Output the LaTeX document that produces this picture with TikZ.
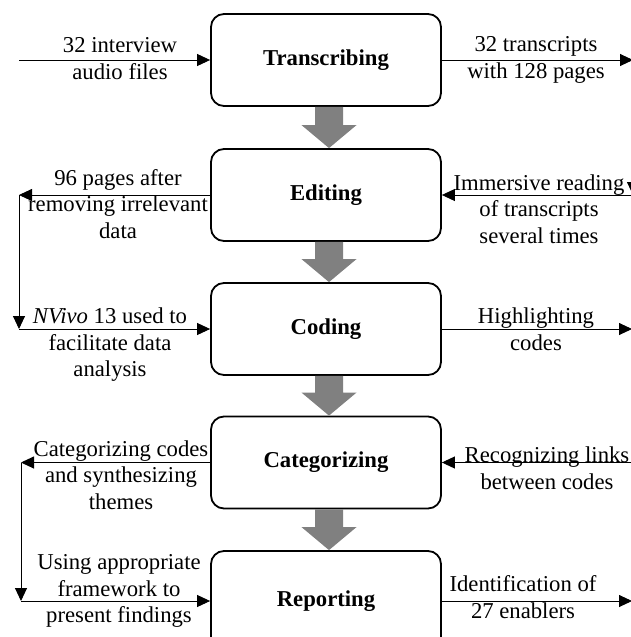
\documentclass[tikz,border=0pt]{standalone}
\usepackage{fontspec}
\setmainfont{Liberation Serif}
\usetikzlibrary{arrows.meta, calc}

\newcommand{\labelsize}{\fontsize{22.7}{26.5}\selectfont}

\begin{document}
\begin{tikzpicture}[x=1pt, y=-1pt,
    stage/.style={draw, line width=1.8pt, rounded corners=13pt, minimum width=230pt, minimum height=92pt, inner sep=0pt, font=\labelsize\bfseries},
    note/.style={align=center, inner sep=0pt, font=\labelsize},
    flow/.style={line width=0.9pt, -{Triangle[length=13pt, width=12pt]}}]
    \useasboundingbox (0,0) rectangle (631,637);

    % Draw the five stages
    \node[stage] (trans) at (326,60) {Transcribing};
    \node[stage] (edit) at (326,195) {Editing};
    \node[stage] (code) at (326,329) {Coding};
    \node[stage] (cat) at (326,462.5) {Categorizing};
    \node[stage, minimum height=100pt] (rep) at (326,601) {Reporting};

    % Draw grey block arrows between stages
    \foreach \a/\b in {trans/edit, edit/code, code/cat, cat/rep} {
        \fill[gray] ($(\a.south)+(-11,0)$) -- ($(\a.south)+(17,0)$) -- ($(\b.north)+(17,-23)$) -- ($(\b.north)+(30.5,-23)$)
            -- ($(\b.north)+(3,0)$) -- ($(\b.north)+(-24.5,-23)$) -- ($(\b.north)+(-11,-23)$) -- cycle;
    }

    % Free ends on the left and right edges
    \coordinate (ltrans) at (19,60);
    \coordinate (ledit) at (19,195);
    \coordinate (lcode) at (19,329);
    \coordinate (lcat) at (21,462.5);
    \coordinate (lrep) at (21,601);
    \coordinate (rtop) at (633,60);
    \coordinate (rbot) at (633,195);
    \coordinate (rcode) at (632,329);
    \coordinate (rcat) at (633,462.5);
    \coordinate (rrep) at (632,601);

    % Draw side arrows
    \draw[flow] (ltrans) -- (trans.west);
    \draw[flow] (trans.east) -- (rtop);
    \draw[flow] (rtop) -- (rbot);
    \draw[flow] (rbot) -- (edit.east);
    \draw[flow] (edit.west) -- (ledit);
    \draw[flow] (ledit) -- (lcode);
    \draw[flow] (lcode) -- (code.west);
    \draw[flow] (code.east) -- (rcode);
    \draw[flow] (rcat) -- (cat.east);
    \draw[flow] (cat.west) -- (lcat);
    \draw[flow] (lcat) -- (lrep);
    \draw[flow] (lrep) -- (rep.west);
    \draw[flow] (rep.east) -- (rrep);

    % Draw labels
    \node[note] (audio) at (120,58.5) {32 interview\\audio files};
    \node[note] (transcripts) at (536,60) {32 transcripts\\with 128 pages};
    \node[note] (pages) at (118,204) {96 pages after\\removing irrelevant\\data};
    \node[note] (reading) at (539,209) {Immersive reading\\of transcripts\\several times};
    \node[note] (nvivo) at (110,345) {\textit{NVivo} 13 used to\\facilitate data\\analysis};
    \node[note] (highlight) at (536,329) {Highlighting\\codes};
    \node[note] (themes) at (121,475) {Categorizing codes\\and synthesizing\\themes};
    \node[note] (links) at (547,468) {Recognizing links\\between codes};
    \node[note] (framework) at (119,591) {Using appropriate\\framework to\\present findings};
    \node[note] (enablers) at (523,597) {Identification of\\27 enablers};

\end{tikzpicture}
\end{document}
